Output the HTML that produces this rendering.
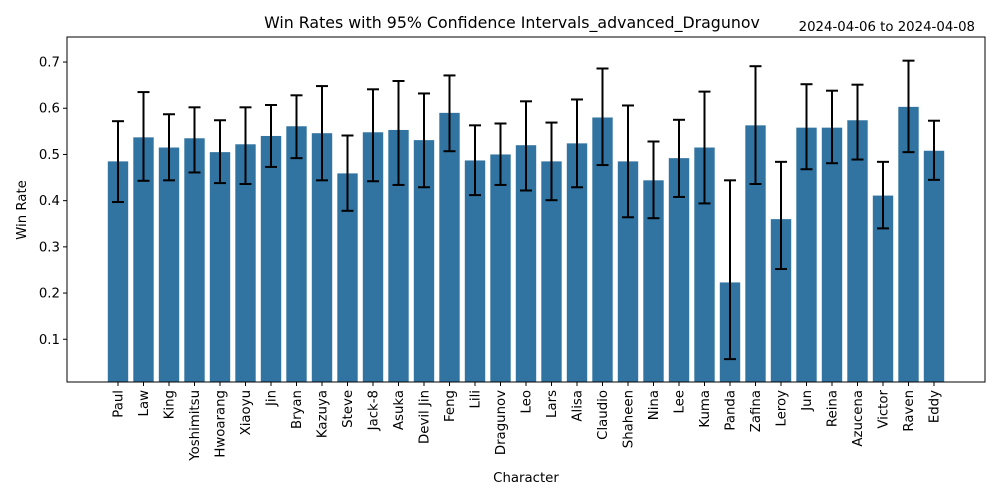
<!DOCTYPE html>
<html><head><meta charset="utf-8"><style>
body{margin:0;background:#fff;}
svg{display:block;font-family:"DejaVu Sans","Liberation Sans",sans-serif;}
</style></head><body>
<svg id="chart" width="1000" height="500">
<text x="512" y="28" font-size="15.8" text-anchor="middle">Win Rates with 95% Confidence Intervals_advanced_Dragunov</text>
<text x="975" y="31" font-size="13.3" text-anchor="end">2024-04-06 to 2024-04-08</text>
<text transform="translate(26,210) rotate(-90)" font-size="13.3" text-anchor="middle">Win Rate</text>
<text x="526" y="482" font-size="13.3" text-anchor="middle">Character</text>
<g id="bars"></g><g id="errs"></g><g id="axes"></g>
</svg>
<script>
const categories=["Paul","Law","King","Yoshimitsu","Hwoarang","Xiaoyu","Jin","Bryan","Kazuya","Steve","Jack-8","Asuka","Devil Jin","Feng","Lili","Dragunov","Leo","Lars","Alisa","Claudio","Shaheen","Nina","Lee","Kuma","Panda","Zafina","Leroy","Jun","Reina","Azucena","Victor","Raven","Eddy"];
const winRates=[0.485,0.537,0.515,0.535,0.505,0.522,0.54,0.561,0.546,0.459,0.548,0.553,0.531,0.59,0.487,0.5,0.52,0.485,0.524,0.58,0.485,0.444,0.492,0.515,0.223,0.563,0.36,0.558,0.558,0.574,0.411,0.603,0.508];
const ciUpper=[0.572,0.635,0.587,0.602,0.574,0.602,0.607,0.628,0.648,0.541,0.641,0.659,0.632,0.671,0.563,0.567,0.615,0.569,0.619,0.686,0.606,0.528,0.575,0.636,0.444,0.691,0.484,0.652,0.638,0.651,0.484,0.703,0.573];
const ciLower=[0.397,0.443,0.444,0.461,0.438,0.436,0.473,0.492,0.444,0.378,0.442,0.434,0.429,0.507,0.412,0.434,0.422,0.401,0.429,0.477,0.364,0.362,0.408,0.394,0.057,0.436,0.252,0.468,0.481,0.489,0.34,0.505,0.445];
const yTicks=[0.1,0.2,0.3,0.4,0.5,0.6,0.7];
const NS="http://www.w3.org/2000/svg";
const L=67,R=985,T=37,B=382,xmin=-2,xmax=34,ymin=0.0075,ymax=0.7542;
const xs=i=>L+(i-xmin)/(xmax-xmin)*(R-L);
const ys=v=>B-(v-ymin)/(ymax-ymin)*(B-T);
const bw=0.8*(R-L)/(xmax-xmin);
function mk(tag,attrs,parent){const e=document.createElementNS(NS,tag);for(const k in attrs)e.setAttribute(k,attrs[k]);document.getElementById(parent).appendChild(e);return e;}
categories.forEach((c,i)=>{
  const b=mk('rect',{x:xs(i)-bw/2,y:ys(winRates[i]),width:bw,height:B-ys(winRates[i]),fill:'#3274a1'},'bars');
  
  
  const g=mk('g',{stroke:'#000','stroke-width':2},'errs');
  
  
  const x=xs(i),yu=ys(ciUpper[i]),yl=ys(ciLower[i]);
  [[x,x,yu,yl],[x-6,x+6,yu,yu],[x-6,x+6,yl,yl]].forEach(a=>{const l=document.createElementNS(NS,'line');l.setAttribute('x1',a[0]);l.setAttribute('x2',a[1]);l.setAttribute('y1',a[2]);l.setAttribute('y2',a[3]);g.appendChild(l);});
  mk('line',{x1:x,x2:x,y1:B,y2:B+4,stroke:'#000'},'axes');
  const t=mk('text',{transform:`translate(${x+4.5},${B+8}) rotate(-90)`,'font-size':13.3,'text-anchor':'end'},'axes');
  t.textContent=c;
  
  
});
yTicks.forEach(v=>{
  const y=ys(v);
  mk('line',{x1:L-4,x2:L,y1:y,y2:y,stroke:'#000'},'axes');
  const t=mk('text',{x:L-7,y:y+4.5,'font-size':13.3,'text-anchor':'end'},'axes');
  t.textContent=v.toFixed(1);
  
  
});
const f=mk('rect',{x:L,y:T,width:R-L,height:B-T,fill:'none',stroke:'#000','stroke-width':1},'axes');


</script>
</body></html>
